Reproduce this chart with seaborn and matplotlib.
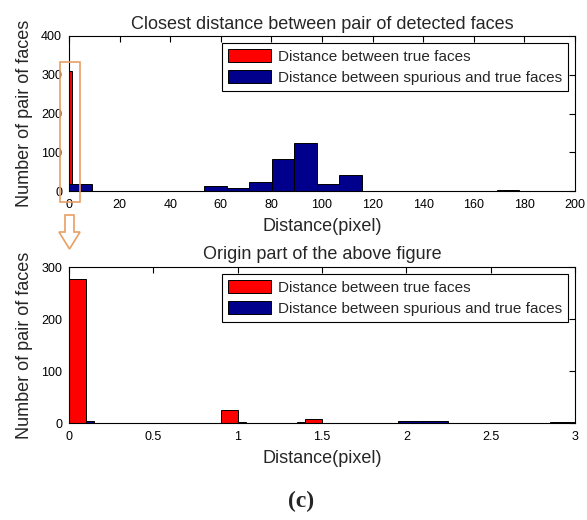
import numpy as np
import pandas as pd
import matplotlib
matplotlib.use("Agg")
import matplotlib.pyplot as plt
from matplotlib.patches import Rectangle, Polygon
from matplotlib.ticker import FuncFormatter
import seaborn as sns

# top panel: full range
top_red_centers = [0.5]
top_red_counts = [310]
top_red_width = 1.0
top_blue_centers = [4.45, 57.85, 66.75, 75.65, 84.55, 93.45, 102.35, 111.25, 173.55]
top_blue_counts = [19, 12, 7, 22, 82, 123, 18, 42, 2]
top_blue_width = 8.9

# bottom panel: origin part
bot_red_centers = [0.05, 0.95, 1.45]
bot_red_counts = [277, 25, 7]
bot_red_width = 0.1
bot_blue_centers = [0.075, 0.975, 1.425, 2.025, 2.175, 2.925]
bot_blue_counts = [3, 2, 1, 3, 3, 2]
bot_blue_width = 0.15

label_true = "Distance between true faces"
label_spur = "Distance between spurious and true faces"
RED = "#FF0000"
NAVY = "#00008C"
ORANGE = "#E8A064"

sns.set_style("white")
plt.rcParams['font.family'] = ['Liberation Sans', 'DejaVu Sans']

W, H = 587, 520
fig = plt.figure(figsize=(W / 100, H / 100), dpi=100)


def px_axes(x0, y0, x1, y1):
    return fig.add_axes([x0 / W, 1 - y1 / H, (x1 - x0) / W, (y1 - y0) / H])


def draw_hist(ax, centers, counts, width, color, label):
    df = pd.DataFrame({"d": centers, "n": counts})
    sns.histplot(data=df, x="d", weights="n", binwidth=width,
                 binrange=(0, max(centers) + width / 2),
                 color=color, edgecolor="black", linewidth=0.7, alpha=1,
                 ax=ax, label=label)


def add_legend(ax, handles, labels):
    leg = ax.legend(handles, labels, loc="upper right", fontsize=11,
                    frameon=True, fancybox=False, edgecolor="black",
                    framealpha=1, handlelength=2.8, handleheight=0.9,
                    borderaxespad=0.45, labelspacing=0.45, handletextpad=0.45,
                    borderpad=0.4)
    leg.get_frame().set_linewidth(0.8)


def style_axes(ax, xlim, ylim, xstep, ystep, title, tpad):
    ax.set_xlim(*xlim)
    ax.set_ylim(*ylim)
    ax.set_xticks(np.arange(xlim[0], xlim[1] + xstep / 2, xstep))
    ax.set_yticks(np.arange(ylim[0], ylim[1] + ystep / 2, ystep))
    ax.xaxis.set_major_formatter(FuncFormatter(lambda v, p: f"{v:g}"))
    ax.tick_params(direction="in", top=True, right=True, length=4,
                   width=0.8, labelsize=9, colors="black")
    ax.tick_params(axis="x", pad=6)
    ax.tick_params(axis="y", pad=5)
    for s in ax.spines.values():
        s.set_color("black")
        s.set_linewidth(0.8)
    ax.set_title(title, fontsize=13, pad=tpad)
    ax.set_xlabel("Distance(pixel)", fontsize=13, labelpad=5)
    ax.set_ylabel("Number of pair of faces", fontsize=13, labelpad=6)
    h, l = ax.get_legend_handles_labels()
    order = [l.index(label_true), l.index(label_spur)]
    add_legend(ax, [h[i] for i in order], [l[i] for i in order])


ax1 = px_axes(69, 36, 575, 191)
draw_hist(ax1, top_red_centers, top_red_counts, top_red_width, RED, label_true)
draw_hist(ax1, top_blue_centers, top_blue_counts, top_blue_width, NAVY, label_spur)
style_axes(ax1, (0, 200), (0, 400), 20, 100,
           "Closest distance between pair of detected faces", 5)

ax2 = px_axes(69, 267, 575, 423)
draw_hist(ax2, bot_blue_centers, bot_blue_counts, bot_blue_width, NAVY, label_spur)
draw_hist(ax2, bot_red_centers, bot_red_counts, bot_red_width, RED, label_true)
style_axes(ax2, (0, 3), (0, 300), 0.5, 100, "Origin part of the above figure", 6)


def fpt(x, y):
    return (x / W, 1 - y / H)


# orange highlight box and arrow
bx0, by0 = fpt(60, 202)
fig.add_artist(Rectangle((bx0, by0), 20 / W, 140 / H, transform=fig.transFigure,
                         fill=False, edgecolor=ORANGE, linewidth=1.2))
arrow_pts = [fpt(65, 215), fpt(74, 215), fpt(74, 232), fpt(80, 232),
             fpt(69.5, 249), fpt(59, 232), fpt(65, 232)]
fig.add_artist(Polygon(arrow_pts, closed=True, transform=fig.transFigure,
                       fill=False, edgecolor=ORANGE, linewidth=1.2))

fig.text(301 / W, 1 - 501 / H, "(c)", ha="center", va="center", fontsize=17,
         fontweight="bold", family=["Liberation Serif", "DejaVu Serif"])

fig.savefig("out.png", dpi=100, facecolor="white")
